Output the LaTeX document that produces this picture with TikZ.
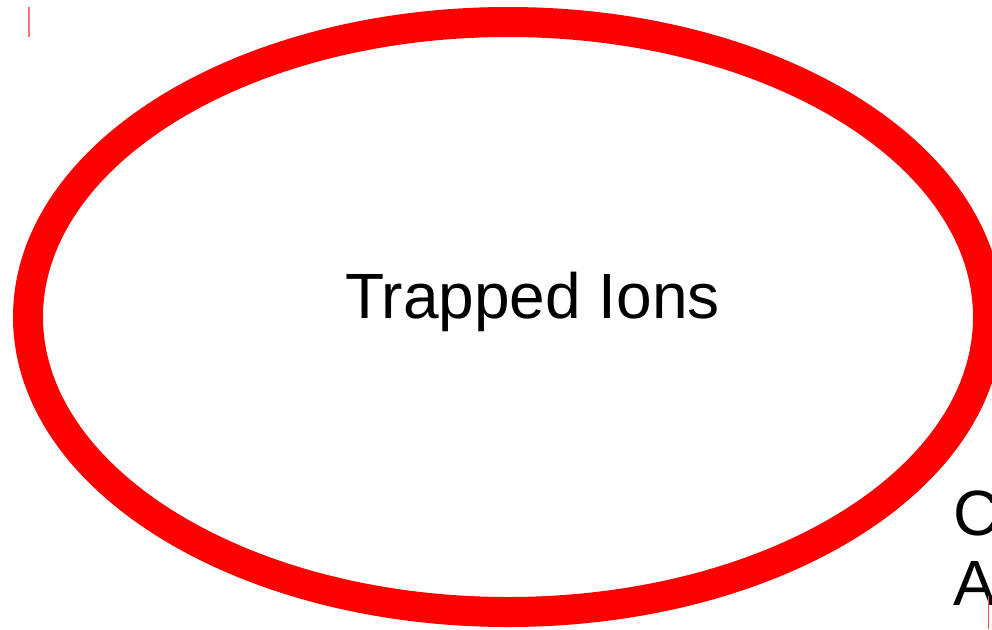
\documentclass[tikz,border=0pt]{standalone}
\usepackage{fontspec}
\setmainfont{Liberation Sans}
\usetikzlibrary{shapes.geometric}
\begin{document}
\begin{tikzpicture}[x=1pt,y=-1pt,
  ring/.style={draw=red,line width=30pt},
  tick/.style={draw=red!55,line width=2pt},
  thintick/.style={draw=red!70,line width=1pt},
  lbl/.style={font=\fontsize{64}{70}\selectfont,text=black,inner sep=0pt}]
\useasboundingbox (0,0) rectangle (992,629);
\clip (0,0) rectangle (992,629);
\fill[white] (0,0) rectangle (992,629);
\node[ring,ellipse,minimum width=960pt,minimum height=590pt,inner sep=0pt] (ions) at (508,317) {};
\node[lbl,anchor=base] (t) at (532.5,318) {Trapped Ions};
\node[lbl,anchor=base west] (c) at (953,535) {C};
\node[lbl,anchor=base west] (a) at (953,605) {A};
\coordinate (p1) at (29,7);
\coordinate (p2) at (29,37);
\draw[tick] (p1) -- (p2);
\coordinate (q1) at (988,596);
\coordinate (q2) at (988,629);
\draw[thintick] (q1) -- (q2);
\end{tikzpicture}
\end{document}
